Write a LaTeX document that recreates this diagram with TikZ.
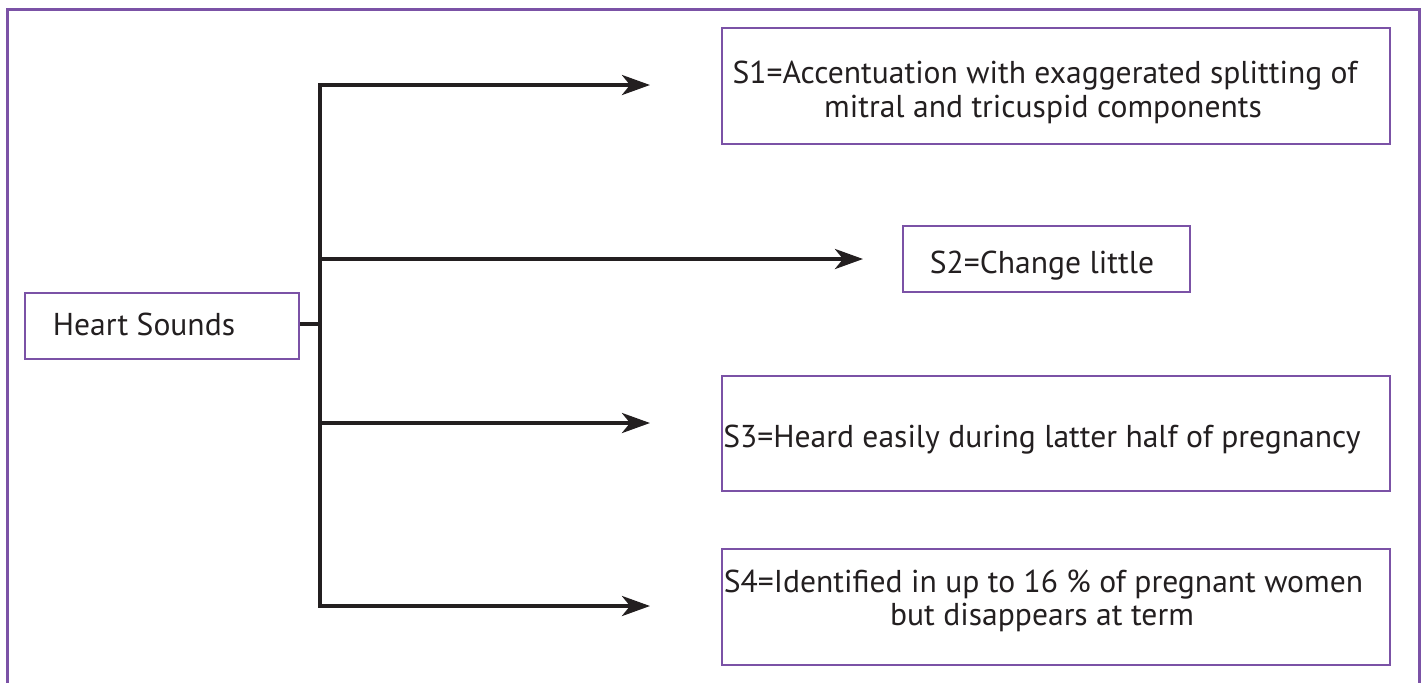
\documentclass[tikz,border=0pt]{standalone}
\usepackage{fontspec}
\setmainfont{PT Sans}
\usetikzlibrary{arrows.meta}
\definecolor{frame}{HTML}{7B52A6}
\definecolor{ink}{HTML}{231F20}
\begin{document}
\begin{tikzpicture}[x=0.5pt,y=-0.5pt,
  box/.style={draw=frame,line width=1pt,fill=white,inner sep=0pt},
  txt/.style={text=ink,font=\fontsize{15.8}{17}\selectfont,align=center,inner sep=0pt},
  conn/.style={draw=ink,line width=2pt},
  arr/.style={conn,-{Stealth[length=14pt,width=10pt,inset=4pt]}}]
\useasboundingbox (0,0) rectangle (1424,682);
\draw[frame,line width=1.5pt] (7,700) -- (7,9) -- (1419,9) -- (1419,700);
% boxes
\node[box,minimum width=137pt,minimum height=33pt] (hs) at (162,326) {};
\node[box,minimum width=334pt,minimum height=58pt] (b1) at (1056,85.5) {};
\node[box,minimum width=143.5pt,minimum height=33pt] (b2) at (1046.5,259) {};
\node[box,minimum width=334pt,minimum height=57.5pt] (b3) at (1056,433.5) {};
\node[box,minimum width=334pt,minimum height=58pt] (b4) at (1056,607) {};
% texts
\node[txt,anchor=base] (ths) at (144,335) {Heart Sounds};
\node[txt,anchor=base] (t1) at (1045,83) {S1=Accentuation with exaggerated splitting of};
\node[txt,anchor=base] (t1b) at (1043,117) {mitral and tricuspid components};
\node[txt,anchor=base] (t2) at (1042,273) {S2=Change little};
\node[txt,anchor=base] (t3) at (1042,447) {S3=Heard easily during latter half of pregnancy};
\node[txt,anchor=base] (t4) at (1043.5,592) {S4=Identified in up to 16 \% of pregnant women};
\node[txt,anchor=base] (t4b) at (1042,625) {but disappears at term};
% connectors
\coordinate (j) at (320,324);
\coordinate (top) at (320,85);
\coordinate (bot) at (320,606);
\coordinate (e1) at (650,85);
\coordinate (e2) at (863,259);
\coordinate (e3) at (650,423);
\coordinate (e4) at (650,606);
\draw[conn] (hs.east |- j) -- (j);
\draw[conn,line cap=rect] (top) -- (bot);
\draw[arr] (top) -- (e1);
\draw[arr] (320,259) -- (e2);
\draw[arr] (320,423) -- (e3);
\draw[arr] (bot) -- (e4);
\end{tikzpicture}
\end{document}
